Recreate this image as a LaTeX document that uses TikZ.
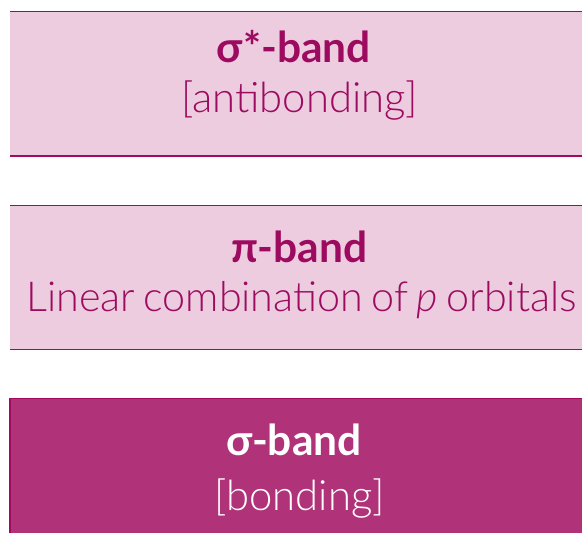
\documentclass[tikz,border=0pt]{standalone}
\usepackage{fontspec}
\setmainfont{Lato}
\newfontfamily\lightfont{Lato Light}
\newcommand\tightspacing{\spaceskip=0.75\fontdimen2\font\relax}
\definecolor{txt}{HTML}{9C0B5F}
\definecolor{lightfill}{HTML}{EDCCE0}
\definecolor{darkfill}{HTML}{B0337A}
\definecolor{edge}{HTML}{A5095F}
\begin{document}
\begin{tikzpicture}[x=1pt,y=1pt,
  bandbox/.style={rectangle,inner sep=0pt,anchor=north west,minimum width=580pt},
  title/.style={anchor=base west,inner sep=0pt,font=\fontsize{42.5}{50}\selectfont\bfseries},
  sub/.style={anchor=base west,inner sep=0pt,font=\fontsize{41.8}{50}\selectfont\lightfont},
  longsub/.style={anchor=base west,inner sep=0pt,font=\fontsize{41.3}{50}\selectfont\lightfont},
  edgeline/.style={draw=edge,line width=1.5pt}]
\useasboundingbox (0,0) rectangle (582,533);
% boxes
\node[bandbox,fill=lightfill,minimum height=144pt] (b1) at (10,521.5) {};
\node[bandbox,fill=lightfill,minimum height=143.5pt] (b2) at (10,327.5) {};
\node[bandbox,fill=darkfill,minimum height=140pt] (b3) at (10,134.3) {};
\draw[edgeline] (b1.north west) -- (b1.north east);
\draw[edgeline] (b1.south west) -- (b1.south east);
\draw[edgeline] (b2.north west) -- (b2.north east);
\draw[edgeline] (b2.south west) -- (b2.south east);
\draw[edgeline] (b3.south west) -- (b3.north west) -- (b3.north east);
% texts
\node[title,text=txt] (t1) at (216.5,470.5) {σ*-band};
\node[sub,text=txt] (s1) at (181,420) {[antibonding]};
\node[title,text=txt] (t2) at (231,270.5) {π-band};
\node[longsub,text=txt] (s2) at (26,221) {\tightspacing Linear combination of \textit{p} orbitals};
\node[title,text=white] (t3) at (225.8,77) {σ-band};
\node[sub,text=white] (s3) at (214,22) {[bonding]};
\end{tikzpicture}
\end{document}
